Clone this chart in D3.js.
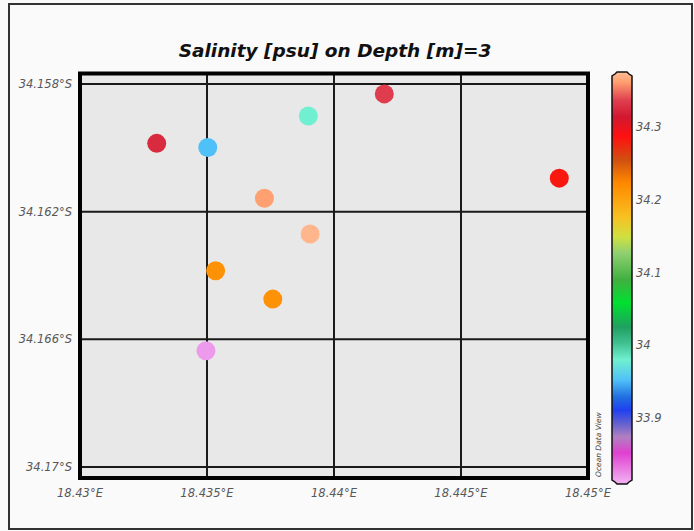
<!DOCTYPE html>
<html><head><meta charset="utf-8">
<script src="https://cdn.jsdelivr.net/npm/d3@7"></script>
<style>body{margin:0;background:#fff;}svg{display:block;}</style>
</head><body>
<script>
// ---- data ----
const lon = [18.43302, 18.43503, 18.43899, 18.44198, 18.43726, 18.43906, 18.43534, 18.43759, 18.43496, 18.44887];
const lat = [34.15986, 34.15999, 34.15900, 34.15831, 34.16158, 34.16270, 34.16385, 34.16474, 34.16636, 34.16095];
const salinity = [34.325, 33.952, 33.98, 34.335, 34.362, 34.372, 34.215, 34.215, 33.819, 34.283];
const xTicks = [18.43, 18.435, 18.44, 18.445, 18.45];
const xTickLabels = ["18.43°E", "18.435°E", "18.44°E", "18.445°E", "18.45°E"];
const yTicks = [34.158, 34.162, 34.166, 34.17];
const yTickLabels = ["34.158°S", "34.162°S", "34.166°S", "34.17°S"];
const cTicks = [34.3, 34.2, 34.1, 34, 33.9];
const cTickLabels = ["34.3", "34.2", "34.1", "34", "33.9"];
const paletteValues = [34.373, 34.362, 34.337, 34.314, 34.287, 34.255, 34.223, 34.177, 34.149, 34.127, 34.09, 34.058, 34.025, 34.003, 33.98, 33.952, 33.929, 33.911, 33.893, 33.874, 33.852, 33.814];
const paletteColors = ["#ffb890", "#ffa070", "#e04050", "#d01830", "#ff1010", "#d05010", "#ff8800", "#f8c020", "#d0e040", "#90d070", "#40b040", "#00e030", "#20a060", "#40c090", "#70f0d0", "#50c0f8", "#2070e0", "#2040f0", "#6060d0", "#b080c0", "#e040d0", "#f0a8f0"];
const title = "Salinity [psu] on Depth [m]=3";

// ---- drawing ----
(function () {
const W = 694, H = 531;
const svg = d3.select("body").append("svg").attr("width", W).attr("height", H);
svg.append("rect").attr("width", W).attr("height", H).attr("fill", "#fafafa");
svg.append("rect").attr("x", 9).attr("y", 4).attr("width", 683).attr("height", 525)
  .attr("fill", "none").attr("stroke", "#333").attr("stroke-width", 2);

const pL = 80, pR = 588, pT = 73.5, pB = 478;
const x = d3.scaleLinear().domain([18.43, 18.45]).range([pL, pR]);
const y = d3.scaleLinear().domain([34.158, 34.17]).range([84, 467]);

const color = d3.scaleLinear().domain(paletteValues).range(paletteColors).interpolate(d3.interpolateRgb).clamp(true);

svg.append("rect").attr("x", pL).attr("y", pT).attr("width", pR - pL).attr("height", pB - pT)
  .attr("fill", "#e8e8e8");

const g = svg.append("g");
g.selectAll("line.v").data(xTicks).join("line").attr("class", "v")
  .attr("x1", d => x(d)).attr("x2", d => x(d)).attr("y1", pT).attr("y2", pB)
  .attr("stroke", "#1a1a1a").attr("stroke-width", 2);
g.selectAll("line.h").data(yTicks).join("line").attr("class", "h")
  .attr("y1", d => y(d)).attr("y2", d => y(d)).attr("x1", pL).attr("x2", pR)
  .attr("stroke", "#1a1a1a").attr("stroke-width", 2);

const pts = lon.map((d, i) => ({lon: d, lat: lat[i], s: salinity[i]}));
svg.append("g").selectAll("circle").data(pts).join("circle")
  .attr("cx", d => x(d.lon)).attr("cy", d => y(d.lat)).attr("r", 9.5)
  .attr("fill", d => color(d.s));

svg.append("rect").attr("x", pL).attr("y", pT).attr("width", pR - pL).attr("height", pB - pT)
  .attr("fill", "none").attr("stroke", "#000").attr("stroke-width", 4);

const lblStyle = sel => sel.attr("font-family", "DejaVu Sans, sans-serif")
  .attr("font-style", "italic").attr("font-size", 11.5).attr("fill", "#585858");
svg.append("g").selectAll("text").data(xTicks).join("text")
  .attr("x", d => x(d)).attr("y", 497).attr("text-anchor", "middle")
  .text((d, i) => xTickLabels[i]).call(lblStyle);
svg.append("g").selectAll("text").data(yTicks).join("text")
  .attr("x", 72).attr("y", d => y(d) + 4).attr("text-anchor", "end")
  .text((d, i) => yTickLabels[i]).call(lblStyle);

svg.append("text").attr("x", 335).attr("y", 57).attr("text-anchor", "middle")
  .attr("font-family", "DejaVu Sans, sans-serif").attr("font-weight", "bold")
  .attr("font-style", "italic").attr("font-size", 18.5).attr("fill", "#111").text(title);

const cy = d3.scaleLinear().domain([34.3, 33.9]).range([127, 418]);
const cTop = 75, cBot = 480, cL = 612, cR = 632;
const defs = svg.append("defs");
const grad = defs.append("linearGradient").attr("id", "cbar")
  .attr("gradientUnits", "userSpaceOnUse").attr("x1", 0).attr("x2", 0).attr("y1", cTop - 4).attr("y2", cBot + 4);
grad.selectAll("stop").data(paletteValues).join("stop")
  .attr("offset", d => Math.max(0, Math.min(1, (cy(d) - (cTop - 4)) / (cBot - cTop + 8))))
  .attr("stop-color", (d, i) => paletteColors[i]);
const path = `M${cL},${cBot} L${cL},${cTop + 1} L${cL + 3},${cTop - 1} L${cL + 5},${cTop - 3} L${cR - 5},${cTop - 3} L${cR - 3},${cTop - 1} L${cR},${cTop + 1} L${cR},${cBot} L${cR - 3},${cBot + 2} L${cR - 5},${cBot + 4} L${cL + 5},${cBot + 4} L${cL + 3},${cBot + 2} Z`;
svg.append("path").attr("d", path).attr("fill", "url(#cbar)").attr("stroke", "#111").attr("stroke-width", 1.5);
svg.append("g").selectAll("text").data(cTicks).join("text")
  .attr("x", 636).attr("y", d => cy(d) + 4).text((d, i) => cTickLabels[i]).call(lblStyle);

svg.append("text").attr("transform", "translate(601,477) rotate(-90)")
  .attr("font-family", "DejaVu Sans, sans-serif").attr("font-style", "italic")
  .attr("font-size", 7.5).attr("fill", "#444").text("Ocean Data View");
})();
</script>
</body></html>
